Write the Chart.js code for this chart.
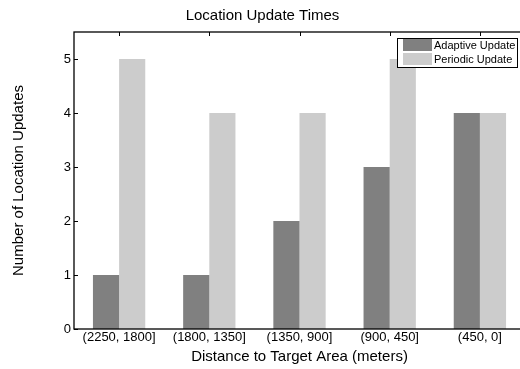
<!DOCTYPE html>
<html>
<head>
<meta charset="utf-8">
<script src="https://cdn.jsdelivr.net/npm/chart.js@4.4.1/dist/chart.umd.min.js"></script>
<style>
  html, body { margin: 0; padding: 0; background: #fff; overflow: hidden; }
  #wrap { width: 530px; height: 369px; }
</style>
</head>
<body>
<div id="wrap"><canvas id="updChart" width="530" height="369"></canvas></div>
<script>
// data
var ranges = ['(2250, 1800]', '(1800, 1350]', '(1350, 900]', '(900, 450]', '(450, 0]'];
var adaptive = [1, 1, 2, 3, 4];
var periodic = [5, 4, 4, 5, 4];
var yTicks = [0, 1, 2, 3, 4, 5];

var fontFam = '"Liberation Sans", Arial, Helvetica, sans-serif';

// matlab style box, inward ticks and legend inside the axes
var matlabBox = {
    id: 'matlabBox',
    afterDraw: function(chart) {
        var ctx = chart.ctx;
        var a = chart.chartArea;
        var xs = chart.scales.x;
        var ys = chart.scales.y;
        ctx.save();
        ctx.strokeStyle = '#000';
        ctx.lineWidth = 1.3;
        ctx.strokeRect(a.left, a.top, a.right - a.left, a.bottom - a.top);
        ctx.lineWidth = 1;
        ctx.beginPath();
        ys.ticks.forEach(function(t, i) {
            var y = Math.round(ys.getPixelForTick(i)) + 0.5;
            ctx.moveTo(a.left, y);
            ctx.lineTo(a.left + 4, y);
        });
        xs.ticks.forEach(function(t, i) {
            var x = Math.round(xs.getPixelForTick(i)) + 0.5;
            ctx.moveTo(x, a.top);
            ctx.lineTo(x, a.top + 4);
        });
        ctx.stroke();

        // legend
        var bx = a.right - 128, by = a.top + 6, bw = 120, bh = 29;
        ctx.fillStyle = '#fff';
        ctx.fillRect(bx, by, bw, bh);
        ctx.lineWidth = 1;
        ctx.strokeRect(bx + 0.5, by + 0.5, bw, bh);
        ctx.font = '11px ' + fontFam;
        ctx.textBaseline = 'middle';
        chart.data.datasets.forEach(function(ds, i) {
            var ry = by + 7 + i * 14;
            ctx.fillStyle = ds.backgroundColor;
            ctx.fillRect(bx + 6, ry - 6, 29, 12);
            ctx.fillStyle = '#000';
            ctx.fillText(ds.label, bx + 37, ry + 0.5);
        });
        ctx.restore();
    }
};

var ctx = document.getElementById('updChart').getContext('2d');
var updChart = new Chart(ctx, {
    type: 'bar',
    data: {
        labels: ranges,
        datasets: [
            {
                label: 'Adaptive Update',
                data: adaptive,
                backgroundColor: '#808080',
                categoryPercentage: 0.58,
                barPercentage: 1.0
            },
            {
                label: 'Periodic Update',
                data: periodic,
                backgroundColor: '#cccccc',
                categoryPercentage: 0.58,
                barPercentage: 1.0
            }
        ]
    },
    options: {
        responsive: false,
        animation: false,
        layout: {
            padding: { left: 0, right: 5, top: 0, bottom: 0 }
        },
        plugins: {
            legend: { display: false },
            tooltip: { enabled: false },
            title: {
                display: true,
                text: 'Location Update Times',
                color: '#000',
                font: { family: fontFam, size: 15, weight: 'normal' },
                padding: { top: 7, bottom: 7 }
            }
        },
        scales: {
            x: {
                grid: { display: false, drawTicks: false },
                border: { display: false },
                ticks: {
                    color: '#000',
                    font: { family: fontFam, size: 13 },
                    padding: 1,
                    maxRotation: 0,
                    autoSkip: false
                },
                title: {
                    display: true,
                    text: 'Distance to Target Area (meters)',
                    color: '#000',
                    font: { family: fontFam, size: 15 },
                    padding: { top: 0, bottom: 3 }
                },
                afterFit: function(s) { s.height = 40; }
            },
            y: {
                min: 0,
                max: 5.5,
                afterBuildTicks: function(s) {
                    s.ticks = yTicks.map(function(v) { return { value: v }; });
                },
                grid: { display: false, drawTicks: false },
                border: { display: false },
                ticks: {
                    color: '#000',
                    font: { family: fontFam, size: 13 },
                    padding: 3
                },
                title: {
                    display: true,
                    text: 'Number of Location Updates',
                    color: '#000',
                    font: { family: fontFam, size: 15 },
                    padding: { top: 10, bottom: 0 }
                },
                afterFit: function(s) { s.width = 74; }
            }
        }
    },
    plugins: [matlabBox]
});
</script>
</body>
</html>
